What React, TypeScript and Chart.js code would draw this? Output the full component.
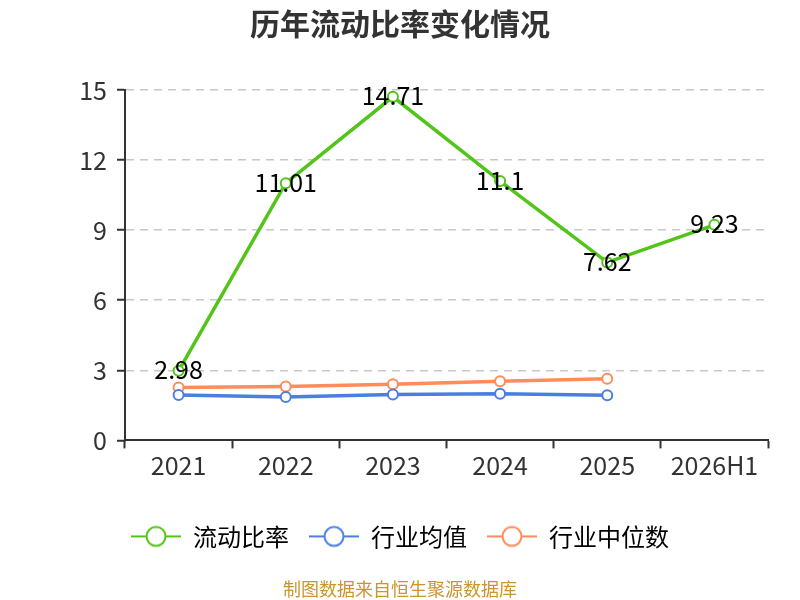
import { useEffect, useRef } from 'react';
import { Chart, registerables } from 'chart.js';

Chart.register(...registerables);

const years = ['2021', '2022', '2023', '2024', '2025', '2026H1'];
const currentRatio = [2.98, 11.01, 14.71, 11.1, 7.62, 9.23];
const industryAvg = [1.94, 1.86, 1.96, 2.0, 1.93, null];
const industryMedian = [2.26, 2.31, 2.4, 2.53, 2.64, null];
const yTicks = [0, 3, 6, 9, 12, 15];

const GREEN = '#52c41a';
const BLUE = '#4a7fe0';
const ORANGE = '#ff8c5a';
const FONT = '"Noto Sans CJK SC", "Noto Sans", sans-serif';

// line + hollow circle glyph for the legend
const makeGlyph = (color: string) => {
  const c = document.createElement('canvas');
  c.width = 50;
  c.height = 24;
  const g = c.getContext('2d');
  if (g) {
    g.strokeStyle = color;
    g.lineWidth = 2;
    g.beginPath();
    g.moveTo(0, 12);
    g.lineTo(50, 12);
    g.stroke();
    g.beginPath();
    g.arc(25, 12, 9.5, 0, Math.PI * 2);
    g.fillStyle = '#fff';
    g.fill();
    g.stroke();
  }
  return c;
};

const valueLabels = {
  id: 'valueLabels',
  afterDatasetsDraw(chart: Chart) {
    const ctx = chart.ctx;
    const meta = chart.getDatasetMeta(0);
    ctx.save();
    ctx.font = `25px ${FONT}`;
    ctx.fillStyle = '#000';
    ctx.textAlign = 'center';
    ctx.textBaseline = 'middle';
    meta.data.forEach((pt, i) => {
      const v = currentRatio[i];
      if (v == null) return;
      ctx.fillText(String(v), pt.x, pt.y - 1);
    });
    ctx.restore();
  }
};

const App = () => {
  const chartRef = useRef<HTMLCanvasElement>(null);

  useEffect(() => {
    const canvas = chartRef.current;
    if (!canvas) return;
    const ctx = canvas.getContext('2d');
    if (!ctx) return;

    const glyphs = [makeGlyph(GREEN), makeGlyph(BLUE), makeGlyph(ORANGE)];

    const chart = new Chart(ctx, {
      type: 'line',
      data: {
        labels: years,
        datasets: [
          {
            label: '流动比率',
            data: currentRatio,
            borderColor: GREEN,
            backgroundColor: '#fff',
            borderWidth: 3.5,
            pointRadius: 5,
            pointBorderWidth: 2,
            pointBackgroundColor: '#fff'
          },
          {
            label: '行业均值',
            data: industryAvg,
            borderColor: BLUE,
            backgroundColor: '#fff',
            borderWidth: 3.5,
            pointRadius: 5,
            pointBorderWidth: 2,
            pointBackgroundColor: '#fff'
          },
          {
            label: '行业中位数',
            data: industryMedian,
            borderColor: ORANGE,
            backgroundColor: '#fff',
            borderWidth: 3.5,
            pointRadius: 5,
            pointBorderWidth: 2,
            pointBackgroundColor: '#fff'
          }
        ]
      },
      options: {
        animation: false,
        responsive: false,
        layout: {
          padding: 0
        },
        plugins: {
          title: {
            display: true,
            text: '历年流动比率变化情况',
            color: '#333',
            font: { family: FONT, size: 30, weight: 'bold' },
            padding: { top: 6, bottom: 48 }
          },
          subtitle: {
            display: true,
            position: 'bottom',
            text: '制图数据来自恒生聚源数据库',
            color: '#c9952c',
            font: { family: FONT, size: 18 },
            padding: { top: 20, bottom: 0 }
          },
          legend: {
            position: 'bottom',
            labels: {
              usePointStyle: true,
              pointStyleWidth: 50,
              boxHeight: 24,
              padding: 20,
              color: '#333',
              font: { family: FONT, size: 24 },
              generateLabels: (c: Chart) =>
                c.data.datasets.map((ds, i) => ({
                  text: ds.label as string,
                  fillStyle: '#fff',
                  strokeStyle: ds.borderColor as string,
                  lineWidth: 2,
                  pointStyle: glyphs[i],
                  hidden: false,
                  datasetIndex: i
                }))
            }
          },
          tooltip: { enabled: false }
        },
        scales: {
          x: {
            offset: true,
            afterFit: (s) => {
              s.height = s.height + 22;
            },
            grid: {
              offset: true,
              drawOnChartArea: false,
              tickLength: 8,
              tickColor: '#333',
              tickWidth: 2
            },
            border: { color: '#333', width: 2 },
            ticks: {
              color: '#333',
              padding: 2,
              font: { family: FONT, size: 25 }
            }
          },
          y: {
            min: 0,
            max: 15,
            afterFit: (s) => {
              s.width = 125;
            },
            afterBuildTicks: (s) => {
              s.ticks = yTicks.map((v) => ({ value: v }));
            },
            grid: {
              color: (c) => (c.tick && c.tick.value === 0 ? 'rgba(0,0,0,0)' : '#c8c8c8'),
              lineWidth: 1.5,
              tickLength: 8,
              tickColor: '#333',
              tickWidth: 2
            },
            border: { color: '#333', width: 2, dash: [8, 6] },
            ticks: {
              color: '#333',
              padding: 10,
              font: { family: FONT, size: 25 }
            }
          },
          // empty right-hand axis that only reserves the right margin
          yRight: {
            position: 'right',
            display: true,
            afterFit: (s) => {
              s.width = 32;
            },
            grid: { display: false, drawTicks: false },
            border: { display: false },
            ticks: { display: false }
          }
        }
      },
      plugins: [valueLabels]
    });

    return () => {
      chart.destroy();
    };
  }, []);

  return (
    <div style={{ position: 'fixed', left: 0, top: 0, width: 800, height: 600, background: '#fff' }}>
      <canvas ref={chartRef} width={800} height={600} style={{ width: '800px', height: '600px' }}></canvas>
    </div>
  );
};

export default App;
